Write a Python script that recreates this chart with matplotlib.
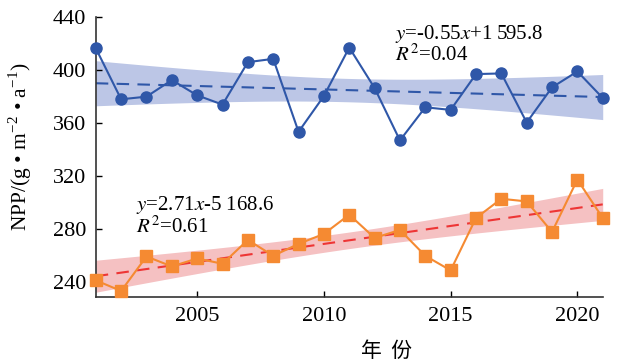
import numpy as np
import matplotlib
matplotlib.use("Agg")
import matplotlib.pyplot as plt

plt.rcParams["font.family"] = ["Liberation Serif", "Noto Sans CJK SC"]
plt.rcParams["mathtext.fontset"] = "stix"

# ── data ──
years = np.arange(2001, 2022)
npp_blue = [416.5, 378, 380, 392.5, 381, 374, 406, 408.5, 353.5, 380.5, 417,
            386.5, 347, 372, 370, 397, 397.5, 360.5, 387, 399, 379]
npp_orange = [241.5, 233.5, 259.5, 252, 258, 254, 272, 260, 269, 276.5, 291,
              273.5, 279.5, 260, 249, 288.5, 303, 301, 278, 317.5, 288.5]
eq_blue = ["$y$=-0.55$x$+1 595.8", "$R^2$=0.04"]
eq_orange = ["$y$=2.71$x$-5 168.6", "$R^2$=0.61"]
xticks = [2005, 2010, 2015, 2020]
yticks = [240, 280, 320, 360, 400, 440]

BLUE = "#2F57A8"
ORANGE = "#F58A32"
RED = "#EE3535"


def fit_band(x, y):
    # linear fit + 95% confidence band of the mean
    x = np.asarray(x, float)
    y = np.asarray(y, float)
    n = len(x)
    k, b = np.polyfit(x, y, 1)
    xs = np.linspace(x.min(), x.max(), 100)
    yhat = k * xs + b
    resid = y - (k * x + b)
    s = np.sqrt(np.sum(resid ** 2) / (n - 2))
    sxx = np.sum((x - x.mean()) ** 2)
    se = s * np.sqrt(1 / n + (xs - x.mean()) ** 2 / sxx)
    t = 2.093  # t(0.975, 19)
    return xs, yhat, yhat - t * se, yhat + t * se


fig = plt.figure(figsize=(6.22, 3.63), dpi=100)
ax = fig.add_axes([0.154, 0.182, 0.815, 0.771])

xs, yh, lo, hi = fit_band(years, npp_blue)
ax.fill_between(xs, lo, hi, color="#BCC6E6", lw=0, zorder=1)
ax.plot(xs, yh, ls=(0, (6, 4)), color=BLUE, lw=1.5, zorder=2)

xs, yh, lo, hi = fit_band(years, npp_orange)
ax.fill_between(xs, lo, hi, color="#F5C1C2", lw=0, zorder=1)
ax.plot(xs, yh, ls=(0, (6, 4)), color=RED, lw=1.5, zorder=2)

ax.plot(years, npp_blue, "-o", color=BLUE, lw=1.5, ms=8, zorder=3, clip_on=False)
ax.plot(years, npp_orange, "-s", color=ORANGE, lw=1.5, ms=8, zorder=3, clip_on=False)

ax.text(2012.8, 427, eq_blue[0], fontsize=15, ha="left", va="center")
ax.text(2012.8, 411, eq_blue[1], fontsize=15, ha="left", va="center")
ax.text(2002.6, 298, eq_orange[0], fontsize=15, ha="left", va="center")
ax.text(2002.6, 282, eq_orange[1], fontsize=15, ha="left", va="center")

ax.set_xlim(2001, 2021)
ax.set_ylim(229, 440)
ax.set_xticks(xticks)
ax.set_yticks(yticks)
ax.tick_params(direction="in", labelsize=16, length=4, width=1, pad=7)
for side in ["top", "right"]:
    ax.spines[side].set_visible(False)
for side in ["left", "bottom"]:
    ax.spines[side].set_color("#333333")
    ax.spines[side].set_linewidth(1.2)

ax.set_xlabel("年  份", fontsize=15, family=["Noto Sans CJK SC"])
ax.xaxis.set_label_coords(0.574, -0.155)
ax.set_ylabel("NPP/(g • m$^{\\mathregular{-2}}$ • a$^{\\mathregular{-1}}$)", fontsize=15.5)
ax.yaxis.set_label_coords(-0.122, 0.537)

fig.savefig("out.png", dpi=100)
